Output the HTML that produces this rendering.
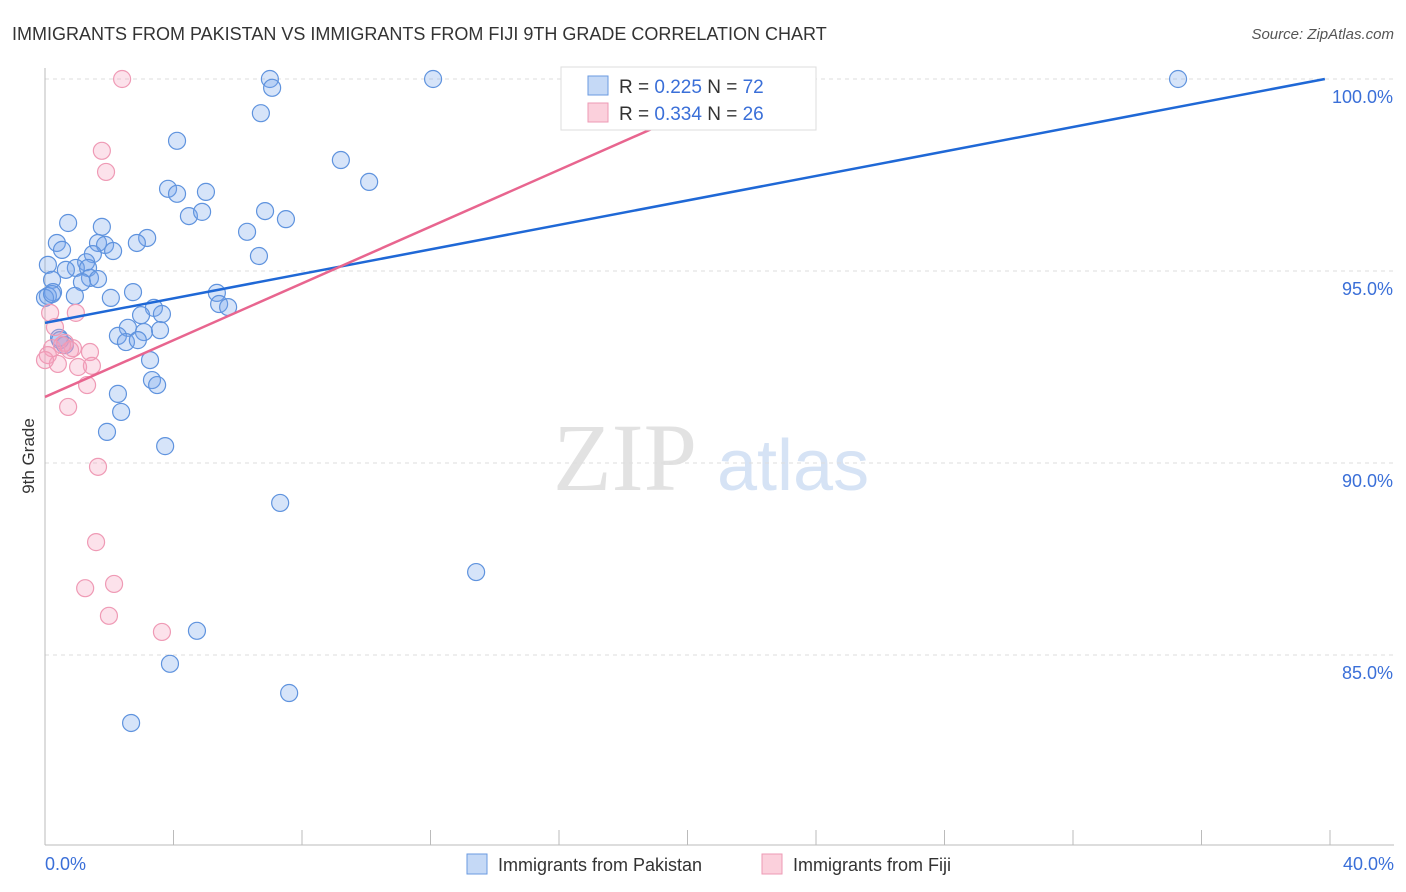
<!DOCTYPE html>
<html><head><meta charset="utf-8"><style>
body{margin:0;background:#fff;font-family:"Liberation Sans",sans-serif}
svg{display:block}
</style></head><body>
<svg id="chart" width="1406" height="892" viewBox="0 0 1406 892" xmlns="http://www.w3.org/2000/svg">
<text x="12" y="40" font-size="18" fill="#333">IMMIGRANTS FROM PAKISTAN VS IMMIGRANTS FROM FIJI 9TH GRADE CORRELATION CHART</text>
<text x="1394" y="39" font-size="15" fill="#555" font-style="italic" text-anchor="end">Source: ZipAtlas.com</text>
<text x="553" y="490" font-size="96" font-family="Liberation Serif,serif" fill="#e2e2e2">ZIP</text>
<text x="717" y="490" font-size="72" fill="#d6e3f5">atlas</text>
<text transform="translate(34,456) rotate(-90)" font-size="17" fill="#333" text-anchor="middle">9th Grade</text>
<g id="grid"></g><g id="axes"></g><g id="pts"></g><g id="lines"></g>
<g>
<rect x="561" y="67" width="255" height="63" fill="#fff" stroke="#ddd"/>
<rect x="588" y="76" width="20" height="19" fill="#c5d9f6" stroke="#6a9ae0"/>
<rect x="588" y="103" width="20" height="19" fill="#fbd0dc" stroke="#ee9ab4"/>
<text x="619" y="93" font-size="19" fill="#333">R = <tspan fill="#3a6fd8">0.225</tspan>   N = <tspan fill="#3a6fd8">72</tspan></text>
<text x="619" y="120" font-size="19" fill="#333">R = <tspan fill="#3a6fd8">0.334</tspan>   N = <tspan fill="#3a6fd8">26</tspan></text>
</g>
<g>
<rect x="467" y="854" width="20" height="20" fill="#c5d9f6" stroke="#6a9ae0"/>
<text x="498" y="871" font-size="18" fill="#333">Immigrants from Pakistan</text>
<rect x="762" y="854" width="20" height="20" fill="#fbd0dc" stroke="#ee9ab4"/>
<text x="793" y="871" font-size="18" fill="#333">Immigrants from Fiji</text>
</g>
</svg>
<script>
const yTicks=[100,95,90,85];
const yTickLabels=["100.0%","95.0%","90.0%","85.0%"];
const xTickLabels=["0.0%","40.0%"];
const pakX=[7.00,7.07,12.08,16.37,35.27,6.72,4.11,9.21,10.09,3.83,4.11,5.01,4.48,4.89,6.85,7.50,0.72,1.77,6.29,0.37,3.18,2.86,1.65,1.87,2.12,0.53,1.49,6.66,0.09,1.28,0.96,0.65,1.34,0.22,1.40,1.65,1.15,0.25,0.09,0.93,2.05,2.74,5.35,3.39,5.42,5.70,2.99,3.64,2.58,3.58,2.27,3.08,2.52,2.89,0.44,0.62,3.27,3.33,3.49,2.27,2.37,1.93,3.74,7.32,13.42,4.73,3.89,7.60,2.68,0.00,0.22,0.47];
const pakY=[100,99.77,100,100,100,99.11,98.39,97.89,97.32,97.14,97.01,97.06,96.43,96.54,96.56,96.35,96.25,96.15,96.02,95.73,95.86,95.73,95.73,95.68,95.52,95.55,95.44,95.39,95.16,95.23,95.08,95.03,95.08,94.77,94.82,94.79,94.71,94.45,94.35,94.35,94.30,94.45,94.43,94.04,94.14,94.06,93.85,93.88,93.52,93.46,93.31,93.41,93.15,93.20,93.26,93.07,92.68,92.16,92.03,91.80,91.33,90.81,90.44,88.96,87.16,85.63,84.77,84.01,83.23,94.30,94.40,93.20];
const fijiX=[2.40,18.12,1.77,1.90,0.16,0.96,0.31,0.22,0.62,0.87,1.40,0.09,0.40,1.03,1.46,1.31,0.72,1.65,1.59,1.25,2.15,1.99,3.64,0,0.78,0.53];
const fijiY=[100,100,98.13,97.58,93.91,93.91,93.54,92.99,93.13,92.99,92.89,92.81,92.58,92.50,92.53,92.03,91.46,89.90,87.94,86.74,86.85,86.02,85.60,92.68,92.94,93.07];
const pakTrend=[[0,93.65],[39.84,100]];
const fijiTrend=[[0,91.72],[20.08,99.14]];
const NS="http://www.w3.org/2000/svg";
const sx=v=>45+v/40*1285, sy=v=>79+(100-v)*38.4;
function mk(t,a,p){const e=document.createElementNS(NS,t);for(const k in a)e.setAttribute(k,a[k]);document.getElementById(p).appendChild(e);return e;}
yTicks.forEach((t,i)=>{
 const g=mk('line',{x1:45,x2:1394,y1:sy(t),y2:sy(t),stroke:'#ddd','stroke-dasharray':'4,4'},'grid');
 
 
 const l=mk('text',{x:1393,y:sy(t)+24,'font-size':18,fill:'#3a6fd8','text-anchor':'end'},'grid');
 
 
 l.textContent=yTickLabels[i];
});
const ax=mk('line',{x1:45,x2:1394,y1:845,y2:845,stroke:'#bbb'},'axes');


const ay=mk('line',{x1:45,x2:45,y1:68,y2:845,stroke:'#bbb'},'axes');


for(let i=0;i<=10;i++){const t=mk('line',{x1:sx(i*4),x2:sx(i*4),y1:830,y2:845,stroke:'#bbb'},'axes');
 
 }
[[0,'start',45],[1,'end',1394]].forEach(([i,a,x])=>{const t=mk('text',{x:x,y:870,'font-size':18,fill:'#3a6fd8','text-anchor':a},'axes');
 
 
 t.textContent=xTickLabels[i];});
pakX.forEach((x,i)=>{const c=mk('circle',{cx:sx(x),cy:sy(pakY[i]),r:8.5,fill:'rgba(120,165,235,0.3)',stroke:'#5f93de','stroke-width':1.2},'pts');
 
 });
fijiX.forEach((x,i)=>{const c=mk('circle',{cx:sx(x),cy:sy(fijiY[i]),r:8.5,fill:'rgba(245,160,190,0.3)',stroke:'#ef9ab5','stroke-width':1.2},'pts');
 
 });
const bl=mk('line',{x1:sx(pakTrend[0][0]),y1:sy(pakTrend[0][1]),x2:sx(pakTrend[1][0]),y2:sy(pakTrend[1][1]),stroke:'#1f68d6','stroke-width':2.5},'lines');


const pl=mk('line',{x1:sx(fijiTrend[0][0]),y1:sy(fijiTrend[0][1]),x2:sx(fijiTrend[1][0]),y2:sy(fijiTrend[1][1]),stroke:'#e8658f','stroke-width':2.5},'lines');


</script>
</body></html>
